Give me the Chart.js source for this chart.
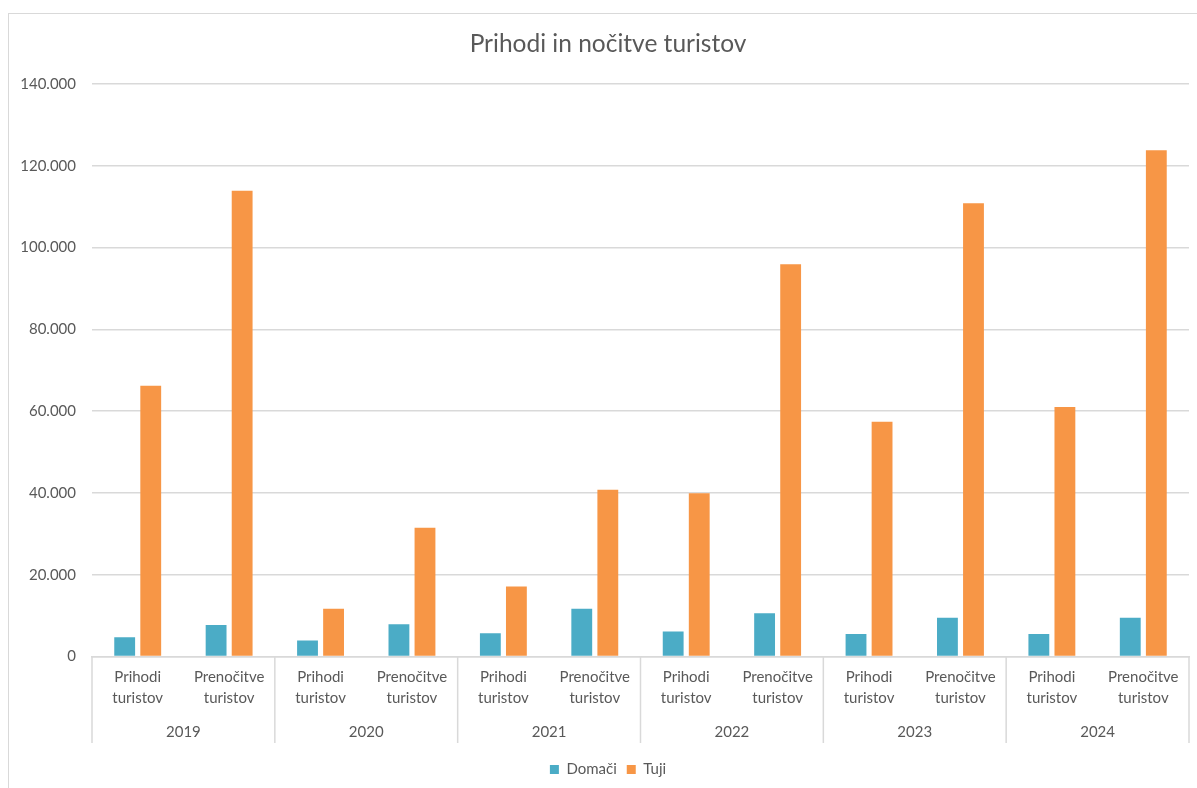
<!DOCTYPE html>
<html>
<head>
<meta charset="utf-8">
<title>Prihodi in nočitve turistov</title>
<script src="https://cdn.jsdelivr.net/npm/chart.js@4.4.1/dist/chart.umd.min.js"></script>
<style>
  html, body { margin: 0; padding: 0; background: #fff; overflow: hidden; width: 1197px; height: 788px; }
  #frame { position: absolute; left: 8px; top: 13px; width: 1200px; height: 775px; border: 1px solid #d9d9d9; background: #fff; }
  canvas { display: block; }
</style>
</head>
<body>
<div id="frame"><canvas id="chart" width="1200" height="775"></canvas></div>
<script>
// Years (outer category level) and measures (inner category level)
const years = ['2019', '2020', '2021', '2022', '2023', '2024'];
const measures = [['Prihodi', 'turistov'], ['Prenočitve', 'turistov']];

// Domestic tourists, per year
const domaciPrihodi  = [4700, 3900, 5700, 6100, 5500, 5500];
const domaciNocitve  = [7700, 7900, 11700, 10600, 9500, 9500];

// Foreign tourists, per year
const tujiPrihodi = [66200, 11700, 17100, 39900, 57400, 61000];
const tujiNocitve = [113900, 31500, 40800, 95900, 110800, 123800];

// Value axis
const yMin = 0;
const yMax = 140000;
const yStep = 20000;

const TEXT = '#595959';
const LINE = '#d9d9d9';
const FONT = 'Lato, "Open Sans", sans-serif';
const YEAR_ROW_GAP = 9;   // blank space kept under the year row, above the legend

// Two inner categories per year: arrivals, then overnight stays
const xLabels = [];
const domaci = [];
const tuji = [];
years.forEach((y, i) => {
  xLabels.push(measures[0], measures[1]);
  domaci.push(domaciPrihodi[i], domaciNocitve[i]);
  tuji.push(tujiPrihodi[i], tujiNocitve[i]);
});

const formatThousands = v => String(v).replace(/\B(?=(\d{3})+(?!\d))/g, '.');

// Vertical dividers between the year groups, running through both label rows
const groupSeparators = {
  id: 'groupSeparators',
  afterDraw(chart) {
    const yearScale = chart.scales.years;
    const area = chart.chartArea;
    const n = yearScale.ticks.length;
    const half = (yearScale.getPixelForValue(1) - yearScale.getPixelForValue(0)) / 2;
    const ctx = chart.ctx;
    ctx.save();
    ctx.strokeStyle = LINE;
    ctx.lineWidth = 1.5;
    ctx.beginPath();
    for (let i = 0; i <= n; i++) {
      const px = i < n ? yearScale.getPixelForValue(i) - half : yearScale.getPixelForValue(n - 1) + half;
      ctx.moveTo(px, area.bottom);
      ctx.lineTo(px, yearScale.bottom - YEAR_ROW_GAP);
    }
    ctx.stroke();
    ctx.restore();
  }
};

// Let the value labels use the left margin instead of being clipped to the axis box
const valueLabelRoom = {
  id: 'valueLabelRoom',
  afterLayout(chart) { chart.scales.y.left = 0; }
};

new Chart(document.getElementById('chart'), {
  type: 'bar',
  data: {
    labels: xLabels,
    datasets: [
      { label: 'Domači', data: domaci, backgroundColor: '#4bacc6', categoryPercentage: 0.57, barPercentage: 0.8 },
      { label: 'Tuji', data: tuji, backgroundColor: '#f79646', categoryPercentage: 0.57, barPercentage: 0.8 }
    ]
  },
  options: {
    responsive: false,
    animation: false,
    layout: { padding: { left: 18, right: 20, top: 0, bottom: 2 } },
    plugins: {
      title: {
        display: true,
        text: 'Prihodi in nočitve turistov',
        color: TEXT,
        font: { family: FONT, size: 24.5, weight: 'normal', lineHeight: 1.2 },
        padding: { top: 15.5, bottom: 25 }
      },
      legend: {
        position: 'bottom',
        labels: {
          color: TEXT,
          font: { family: FONT, size: 15 },
          boxWidth: 9,
          boxHeight: 9,
          padding: 10
        }
      },
      tooltip: { enabled: false }
    },
    scales: {
      x: {
        position: 'bottom',
        grid: { display: false, drawTicks: false },
        border: { display: true, color: LINE, width: 1.5 },
        ticks: {
          color: TEXT,
          font: { family: FONT, size: 15, lineHeight: 1.4 },
          padding: 10,
          maxRotation: 0,
          autoSkip: false
        },
        afterFit(scale) { scale.height = 52; }
      },
      years: {
        type: 'category',
        position: 'bottom',
        labels: years,
        offset: true,
        grid: { display: false, drawTicks: false },
        border: { display: false },
        ticks: {
          color: TEXT,
          font: { family: FONT, size: 15, lineHeight: 1.4 },
          padding: 13,
          maxRotation: 0,
          autoSkip: false
        },
        afterFit(scale) { scale.height = 34.5 + YEAR_ROW_GAP; }
      },
      y: {
        min: yMin,
        max: yMax,
        grid: { color: LINE, lineWidth: 1.5, drawTicks: false },
        border: { display: false },
        ticks: {
          stepSize: yStep,
          color: TEXT,
          font: { family: FONT, size: 15 },
          padding: 16,
          callback: v => formatThousands(v)
        },
        afterFit(scale) { scale.width = 65; }
      }
    }
  },
  plugins: [groupSeparators, valueLabelRoom]
});
</script>
</body>
</html>
